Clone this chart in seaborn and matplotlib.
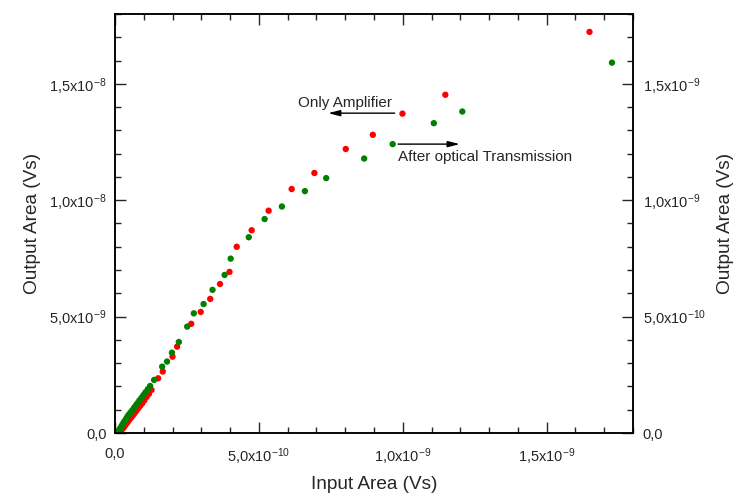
import numpy as np
import matplotlib
matplotlib.use("Agg")
import matplotlib.pyplot as plt
import seaborn as sns
from matplotlib.ticker import MultipleLocator

# ---- data (input area in units of 1e-9 Vs, output area in units of 1e-8 Vs) ----
amp_in = [1.649, 1.148, 0.999, 0.896, 0.802, 0.693, 0.614, 0.534, 0.475, 0.423,
          0.398, 0.365, 0.331, 0.298, 0.265, 0.216, 0.200, 0.166, 0.150, 0.127,
          0.118, 0.110, 0.102, 0.095, 0.088, 0.081, 0.074, 0.068, 0.062, 0.056,
          0.050, 0.045, 0.040, 0.035, 0.031, 0.027, 0.023, 0.020, 0.017, 0.015]
amp_out = [1.723, 1.453, 1.372, 1.281, 1.220, 1.117, 1.048, 0.955, 0.871, 0.800,
           0.692, 0.640, 0.576, 0.520, 0.469, 0.371, 0.328, 0.264, 0.235, 0.185,
           0.168, 0.155, 0.140, 0.128, 0.117, 0.106, 0.095, 0.085, 0.075, 0.066,
           0.057, 0.048, 0.040, 0.032, 0.025, 0.019, 0.013, 0.008, 0.003, 0.000]

opt_in = [1.727, 1.207, 1.108, 0.965, 0.866, 0.734, 0.660, 0.580, 0.520, 0.465,
          0.402, 0.381, 0.339, 0.308, 0.274, 0.251, 0.222, 0.198, 0.181, 0.164,
          0.136, 0.122, 0.114, 0.106, 0.099, 0.092, 0.085, 0.078, 0.072, 0.066,
          0.060, 0.054, 0.049, 0.044, 0.039, 0.034, 0.030, 0.026, 0.022, 0.018,
          0.015, 0.012, 0.010]
opt_out = [1.591, 1.381, 1.331, 1.241, 1.179, 1.095, 1.039, 0.973, 0.919, 0.841,
           0.749, 0.679, 0.615, 0.554, 0.514, 0.457, 0.391, 0.345, 0.307, 0.285,
           0.228, 0.202, 0.188, 0.175, 0.163, 0.151, 0.140, 0.128, 0.118, 0.108,
           0.097, 0.088, 0.080, 0.072, 0.062, 0.052, 0.045, 0.036, 0.028, 0.020,
           0.014, 0.008, 0.003]

x_ticks = [0, 5e-10, 1e-9, 1.5e-9]
x_labels = ["0,0", r"5,0x10$^{\mathregular{-10}}$", r"1,0x10$^{\mathregular{-9}}$",
            r"1,5x10$^{\mathregular{-9}}$"]
y_ticks = [0, 5e-9, 1e-8, 1.5e-8]
y_labels = ["0,0", r"5,0x10$^{\mathregular{-9}}$", r"1,0x10$^{\mathregular{-8}}$",
            r"1,5x10$^{\mathregular{-8}}$"]
y2_ticks = [0, 5e-10, 1e-9, 1.5e-9]
y2_labels = ["0,0", r"5,0x10$^{\mathregular{-10}}$", r"1,0x10$^{\mathregular{-9}}$",
             r"1,5x10$^{\mathregular{-9}}$"]

# ---- style ----
sns.set_style("ticks")
plt.rcParams["font.family"] = ["Liberation Sans", "DejaVu Sans"]
plt.rcParams["mathtext.fontset"] = "custom"
plt.rcParams["mathtext.rm"] = "Liberation Sans"
plt.rcParams["mathtext.it"] = "Liberation Sans:italic"
plt.rcParams["mathtext.bf"] = "Liberation Sans:bold"

fig = plt.figure(figsize=(7.36, 4.96), dpi=100)
ax = fig.add_axes([0.1562, 0.127, 0.8600 - 0.1562, 0.9718 - 0.127])

sns.scatterplot(x=np.array(amp_in) * 1e-9, y=np.array(amp_out) * 1e-8, color="#ff0000",
                s=21, edgecolor="none", ax=ax, zorder=3)
sns.scatterplot(x=np.array(opt_in) * 1e-9, y=np.array(opt_out) * 1e-8, color="#008000",
                s=21, edgecolor="none", ax=ax, zorder=3)

ax.set_xlim(0, 1.8e-9)
ax.set_ylim(0, 1.8e-8)
ax.set_xticks(x_ticks)
ax.set_xticklabels(x_labels)
ax.set_yticks(y_ticks)
ax.set_yticklabels(y_labels)
ax.xaxis.set_minor_locator(MultipleLocator(1e-10))
ax.yaxis.set_minor_locator(MultipleLocator(1e-9))
ax.tick_params(which="both", direction="in", top=True, width=1, labelsize=10.5)
ax.tick_params(which="major", length=8)
ax.tick_params(which="minor", length=4)
ax.tick_params(axis="x", which="major", pad=10)
ax.tick_params(axis="y", which="major", pad=6)
ax.set_xlabel("Input Area (Vs)", fontsize=13.7, labelpad=6)
ax.set_ylabel("Output Area (Vs)", fontsize=13.7, labelpad=6)

ax2 = ax.twinx()
ax2.set_ylim(0, 1.8e-9)
ax2.set_yticks(y2_ticks)
ax2.set_yticklabels(y2_labels)
ax2.yaxis.set_minor_locator(MultipleLocator(1e-10))
ax2.tick_params(which="both", direction="in", width=1, labelsize=10.5)
ax2.tick_params(which="major", length=8, pad=7)
ax2.tick_params(which="minor", length=4)
ax2.set_ylabel("Output Area (Vs)", fontsize=13.7, labelpad=8)

for a in (ax, ax2):
    for sp in a.spines.values():
        sp.set_linewidth(1.1)
        sp.set_color("black")

# annotations
arrow = dict(arrowstyle="-|>,head_length=0.7,head_width=0.18", color="black", lw=1,
             shrinkA=0, shrinkB=0)
ax.annotate("", xy=(0.741e-9, 1.374e-8), xytext=(0.972e-9, 1.374e-8), arrowprops=arrow)
ax.text(0.635e-9, 1.418e-8, "Only Amplifier", fontsize=11, ha="left", va="center")
ax.annotate("", xy=(1.198e-9, 1.241e-8), xytext=(0.984e-9, 1.241e-8), arrowprops=arrow)
ax.text(0.983e-9, 1.187e-8, "After optical Transmission", fontsize=11, ha="left", va="center")

fig.savefig("out.png", dpi=100)
